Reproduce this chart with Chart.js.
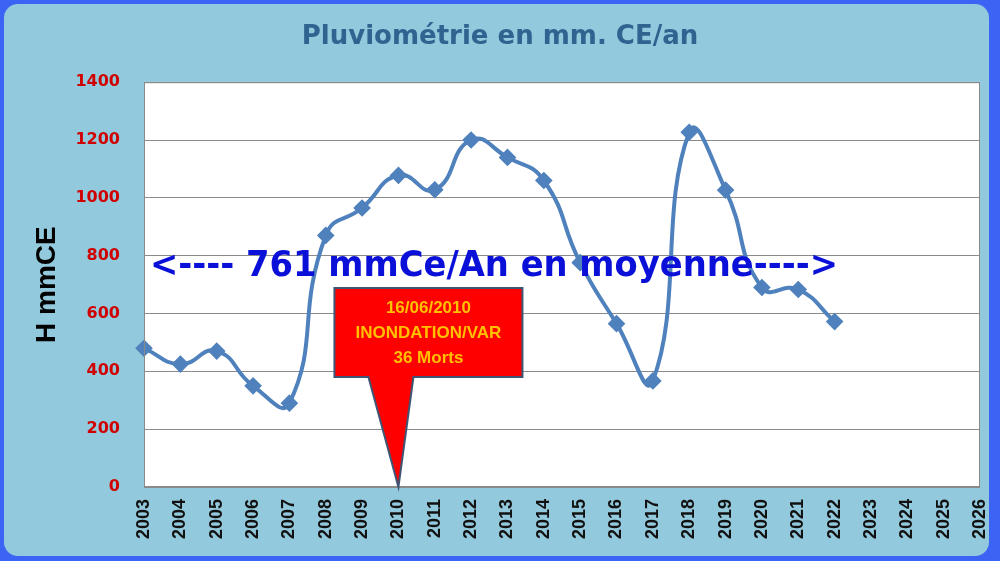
<!DOCTYPE html>
<html><head><meta charset="utf-8">
<script src="https://cdn.jsdelivr.net/npm/chart.js@4.4.1/dist/chart.umd.min.js"></script>
<style>html,body{margin:0;padding:0;background:#3c64f4;}canvas{display:block;}</style>
</head><body>
<canvas id="c" width="1000" height="561"></canvas>
<script>
const years = ['2003','2004','2005','2006','2007','2008','2009','2010','2011','2012','2013','2014','2015','2016','2017','2018','2019','2020','2021','2022','2023','2024','2025','2026'];
const rainfall = [480, 425, 470, 350, 290, 870, 965, 1078, 1028, 1200, 1140, 1060, 776, 565, 367, 1227, 1027, 690, 683, 572];
const yMin = 0, yMax = 1400, yStep = 200;
const titleText = 'Pluviométrie en mm. CE/an';
const yTitleText = 'H mmCE';
const meanValue = 761;
const meanText = '<---- 761 mmCe/An en moyenne---->';
const calloutYear = '2010';
const calloutValue = 0;
const calloutLines = ['16/06/2010', 'INONDATION/VAR', '36 Morts'];

const framePlugin = {
  id: 'frame',
  beforeDraw(chart) {
    const ctx = chart.ctx, ca = chart.chartArea;
    ctx.save();
    ctx.fillStyle = '#3c64f4';
    ctx.fillRect(0, 0, chart.width, chart.height);
    ctx.fillStyle = '#93c9dc';
    ctx.beginPath();
    ctx.roundRect(4, 4, 985, 552, 14);
    ctx.fill();
    ctx.fillStyle = '#ffffff';
    ctx.fillRect(ca.left, ca.top, ca.right - ca.left, ca.bottom - ca.top);
    ctx.restore();
  },
  afterDraw(chart) {
    const ctx = chart.ctx, ca = chart.chartArea;
    const xs = chart.scales.x, ys = chart.scales.y;
    ctx.save();
    ctx.strokeStyle = '#8a8a8a';
    ctx.lineWidth = 1;
    ctx.strokeRect(ca.left + 0.5, ca.top + 0.5, ca.right - ca.left - 1, ca.bottom - ca.top - 1);

    // mean text
    ctx.font = 'bold 36px "DejaVu Sans"';
    const w = ctx.measureText(meanText).width;
    const targetW = 688;
    const tx = xs.getPixelForValue(0) + 6;
    const ty = ys.getPixelForValue(meanValue);
    ctx.translate(tx, ty);
    ctx.scale(targetW / w, 1);
    ctx.fillStyle = '#0a10d8';
    ctx.textBaseline = 'middle';
    ctx.textAlign = 'left';
    ctx.fillText(meanText, 0, 0);
    ctx.setTransform(1, 0, 0, 1, 0, 0);

    // callout
    const px = xs.getPixelForValue(years.indexOf(calloutYear));
    const py = ys.getPixelForValue(calloutValue);
    const L = px - 64, R = px + 124, T = py - 199, B = py - 110;
    ctx.beginPath();
    ctx.moveTo(L, T);
    ctx.lineTo(R, T);
    ctx.lineTo(R, B);
    ctx.lineTo(px + 15, B);
    ctx.lineTo(px, py);
    ctx.lineTo(px - 30, B);
    ctx.lineTo(L, B);
    ctx.closePath();
    ctx.fillStyle = '#ff0000';
    ctx.fill();
    ctx.strokeStyle = '#3f5573';
    ctx.lineWidth = 2;
    ctx.stroke();
    ctx.fillStyle = '#ffc000';
    ctx.font = 'bold 17px "Liberation Sans"';
    ctx.textAlign = 'center';
    ctx.textBaseline = 'middle';
    const cx = (L + R) / 2;
    calloutLines.forEach((s, i) => ctx.fillText(s, cx, T + 20 + i * 25));
    ctx.restore();
  }
};

new Chart(document.getElementById('c'), {
  type: 'line',
  data: {
    labels: years,
    datasets: [{
      data: rainfall,
      borderColor: '#4f81bd',
      backgroundColor: '#4f81bd',
      borderWidth: 4,
      pointStyle: 'rectRot',
      pointRadius: 6,
      pointHoverRadius: 6,
      tension: 0.5,
      fill: false
    }]
  },
  options: {
    responsive: false,
    animation: false,
    layout: { padding: { left: 0, right: 0, top: 0, bottom: 0 } },
    plugins: {
      legend: { display: false },
      tooltip: { enabled: false },
      title: {
        display: true,
        text: titleText,
        color: '#2f6490',
        font: { family: '"DejaVu Sans"', size: 26, weight: 'bold' },
        padding: { top: 22, bottom: 29 }
      }
    },
    scales: {
      x: {
        offset: false,
        grid: { display: false, drawTicks: false },
        border: { display: false },
        ticks: {
          color: '#111',
          font: { family: '"Liberation Sans"', size: 18, weight: 'bold' },
          minRotation: 90, maxRotation: 90,
          padding: 12,
          autoSkip: false
        },
        afterFit(s) { s.height = 74; s.paddingLeft = 0; s.paddingRight = 20; }
      },
      y: {
        min: yMin, max: yMax,
        grid: { color: '#8a8a8a', lineWidth: 1, drawTicks: false },
        border: { display: false },
        ticks: {
          stepSize: yStep,
          color: '#d00000',
          font: { family: '"DejaVu Sans"', size: 16, weight: 'bold' },
          padding: 24,
          callback: v => String(v)
        },
        title: {
          display: true,
          text: yTitleText,
          color: '#000',
          font: { family: '"Liberation Sans"', size: 28, weight: 'bold' },
          padding: { top: 30, bottom: 0 }
        },
        afterFit(s) { s.width = 144; }
      }
    }
  },
  plugins: [framePlugin]
});
</script>
</body></html>
